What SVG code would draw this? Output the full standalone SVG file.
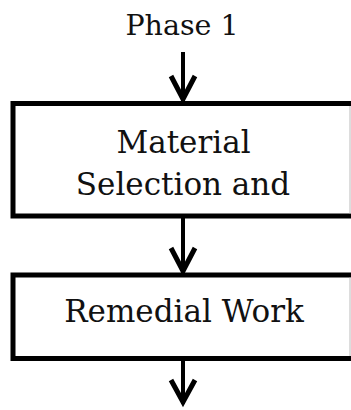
<svg xmlns="http://www.w3.org/2000/svg" width="351" height="410" viewBox="0 0 351 410">
<style>
.t{font-family:"DejaVu Serif","Liberation Serif",serif;font-size:31px;fill:#111;text-anchor:middle}
.p{font-size:28.5px}
.box{fill:#fff;stroke:#000;stroke-width:5}
.edge{stroke:#000;stroke-width:4;fill:none}
.head{stroke:#000;stroke-width:5;fill:none;stroke-linecap:butt;stroke-linejoin:miter}
</style>
<rect width="351" height="410" fill="#fff"/>
<g id="phase1"><text class="t p" x="182" y="35">Phase 1</text></g>
<g id="material">
<rect class="box" x="13" y="103.5" width="345" height="112.5"/>
<line x1="350" y1="106" x2="350" y2="213.5" stroke="#bbb" stroke-width="1"/>
<text class="t" x="183.5" y="153">Material</text>
<text class="t" x="183" y="195">Selection and</text>
</g>
<g id="remedial">
<rect class="box" x="13" y="275" width="345" height="83.5"/>
<line x1="350" y1="277.5" x2="350" y2="356" stroke="#bbb" stroke-width="1"/>
<text class="t" x="184" y="322">Remedial Work</text>
</g>
<g id="connectors">
<line class="edge" x1="183" y1="52" x2="183" y2="101"/>
<polyline class="head" points="171,76 183,99 195,76"/>
<line class="edge" x1="183" y1="218" x2="183" y2="273"/>
<polyline class="head" points="171,248 183,271 195,248"/>
<line class="edge" x1="183" y1="360" x2="183" y2="404"/>
<polyline class="head" points="171,380 183,402 195,380"/>
</g>
</svg>
